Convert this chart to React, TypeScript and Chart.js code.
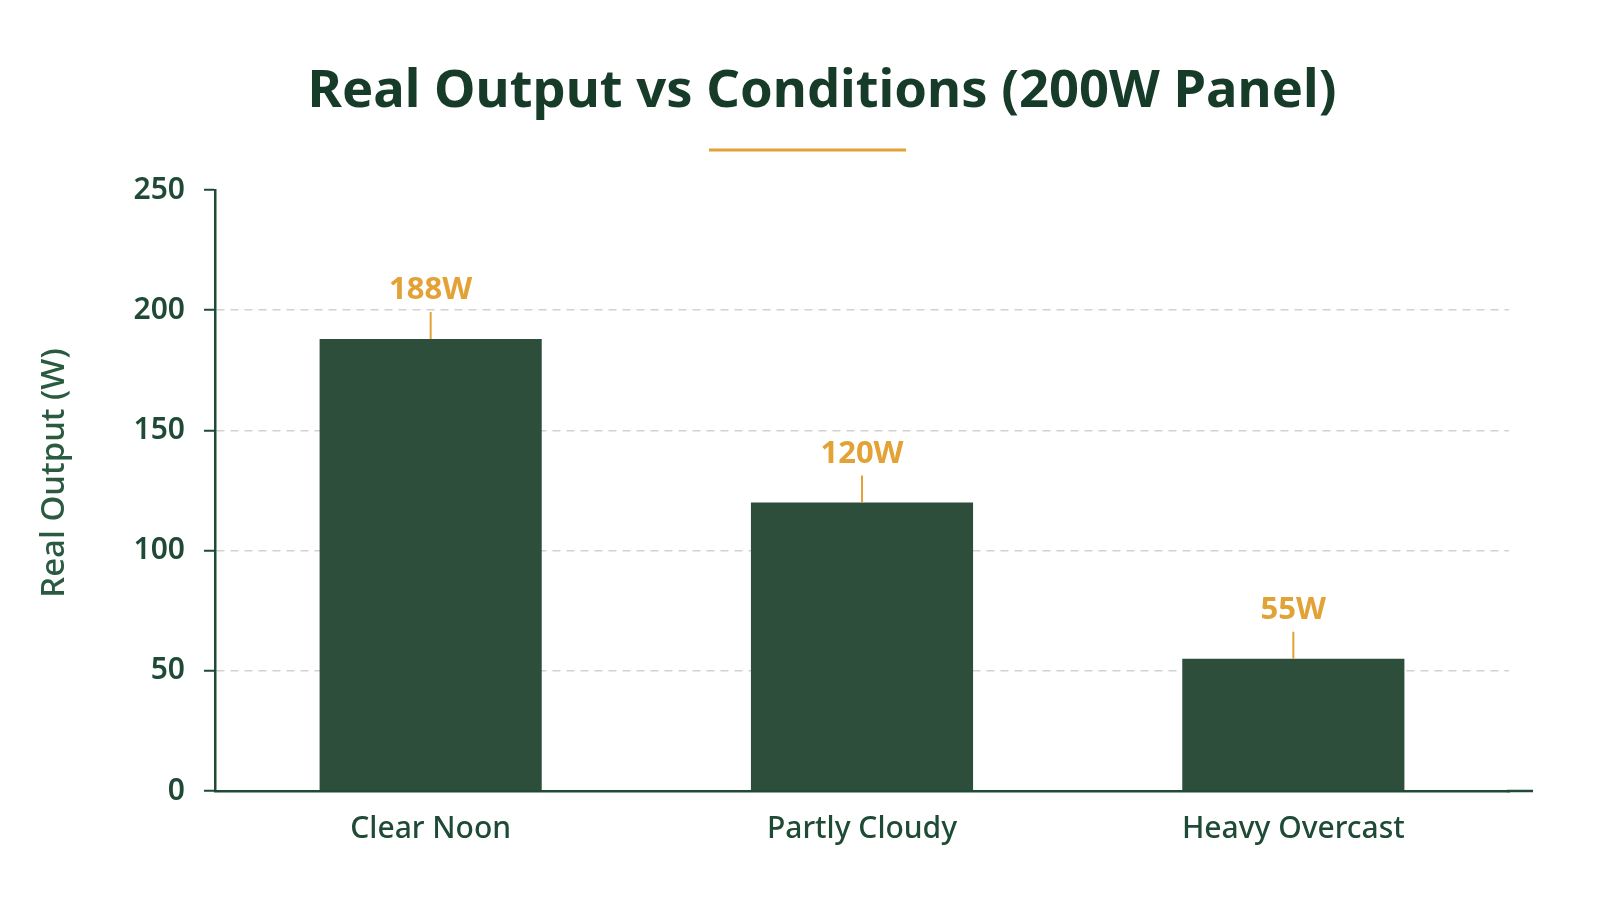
import React, { useEffect, useRef } from 'react';
import { Chart, registerables } from 'chart.js';

Chart.register(...registerables);

const categories = ['Clear Noon', 'Partly Cloudy', 'Heavy Overcast'];
const outputs = [188, 120, 55];
const yTicks = [0, 50, 100, 150, 200, 250];
const chartTitle = 'Real Output vs Conditions (200W Panel)';
const yAxisTitle = 'Real Output (W)';
const valueUnit = 'W';

const FONT = '"Noto Sans", sans-serif';
const TITLE_GREEN = '#173b29';
const AXIS_GREEN = '#1f4a36';
const BAR_GREEN = '#2d4e3b';
const LABEL_GREEN = '#2a5a40';
const GOLD = '#e2a236';
const GRID = '#d2d2d2';

const decorPlugin = {
  id: 'decor',
  afterDatasetsDraw(chart: any) {
    const { ctx, chartArea } = chart;
    ctx.save();
    // headline
    ctx.fillStyle = TITLE_GREEN;
    ctx.font = `bold 52.5px ${FONT}`;
    ctx.textAlign = 'center';
    ctx.textBaseline = 'middle';
    ctx.fillText(chartTitle, 822, 92);
    // gold rule under headline
    ctx.strokeStyle = GOLD;
    ctx.lineWidth = 3;
    ctx.beginPath();
    ctx.moveTo(709, 150);
    ctx.lineTo(906, 150);
    ctx.stroke();
    // y axis title
    ctx.save();
    ctx.translate(55, 473);
    ctx.rotate(-Math.PI / 2);
    ctx.fillStyle = LABEL_GREEN;
    ctx.font = `500 33px ${FONT}`;
    ctx.fillText(yAxisTitle, 0, 0);
    ctx.restore();
    // baseline runs a little past the grid
    ctx.strokeStyle = AXIS_GREEN;
    ctx.lineWidth = 2.5;
    ctx.beginPath();
    ctx.moveTo(chartArea.right - 2, chartArea.bottom);
    ctx.lineTo(chartArea.right + 24, chartArea.bottom);
    ctx.stroke();
    // value labels with leader lines
    const meta = chart.getDatasetMeta(0);
    meta.data.forEach((bar: any, i: number) => {
      ctx.strokeStyle = GOLD;
      ctx.lineWidth = 2;
      ctx.beginPath();
      ctx.moveTo(bar.x, bar.y);
      ctx.lineTo(bar.x, bar.y - 27);
      ctx.stroke();
      ctx.fillStyle = GOLD;
      ctx.font = `bold 31px ${FONT}`;
      ctx.textAlign = 'center';
      ctx.textBaseline = 'alphabetic';
      ctx.fillText(`${outputs[i]}${valueUnit}`, bar.x, bar.y - 40);
    });
    ctx.restore();
  },
};

export default function App() {
  const canvasRef = useRef<HTMLCanvasElement | null>(null);

  useEffect(() => {
    document.body.style.margin = '0';
    if (!canvasRef.current) return;
    const chart = new Chart(canvasRef.current, {
      type: 'bar',
      data: {
        labels: categories,
        datasets: [
          {
            data: outputs,
            backgroundColor: BAR_GREEN,
            barPercentage: 0.515,
            categoryPercentage: 1,
          },
        ],
      },
      options: {
        animation: false,
        responsive: true,
        maintainAspectRatio: false,
        layout: { padding: { top: 190, left: 12, right: 90, bottom: 33 } },
        plugins: {
          legend: { display: false },
          tooltip: { enabled: false },
        },
        scales: {
          x: {
            grid: { display: false, drawTicks: false },
            border: { display: true, color: AXIS_GREEN, width: 2.5 },
            ticks: {
              color: AXIS_GREEN,
              padding: 20,
              font: { family: FONT, size: 30, weight: 500 },
            },
          },
          y: {
            min: 0,
            max: 250,
            afterBuildTicks: (scale: any) => {
              scale.ticks = yTicks.map((v) => ({ value: v }));
            },
            afterFit: (scale: any) => {
              scale.width = 203;
            },
            grid: {
              color: (c: any) =>
                c.tick && (c.tick.value === 0 || c.tick.value === 250) ? 'rgba(0,0,0,0)' : GRID,
              lineWidth: 1.5,
              tickLength: 11,
              tickColor: AXIS_GREEN,
              tickWidth: 2,
            },
            border: { display: true, color: AXIS_GREEN, width: 2.5, dash: [8, 6] },
            ticks: {
              color: AXIS_GREEN,
              padding: 19,
              font: { family: FONT, size: 30, weight: 600 },
            },
          },
        },
      },
      plugins: [decorPlugin],
    });
    return () => chart.destroy();
  }, []);

  return (
    <div style={{ position: 'relative', width: '1599px', height: '900px', background: '#ffffff' }}>
      <canvas ref={canvasRef} />
    </div>
  );
}
